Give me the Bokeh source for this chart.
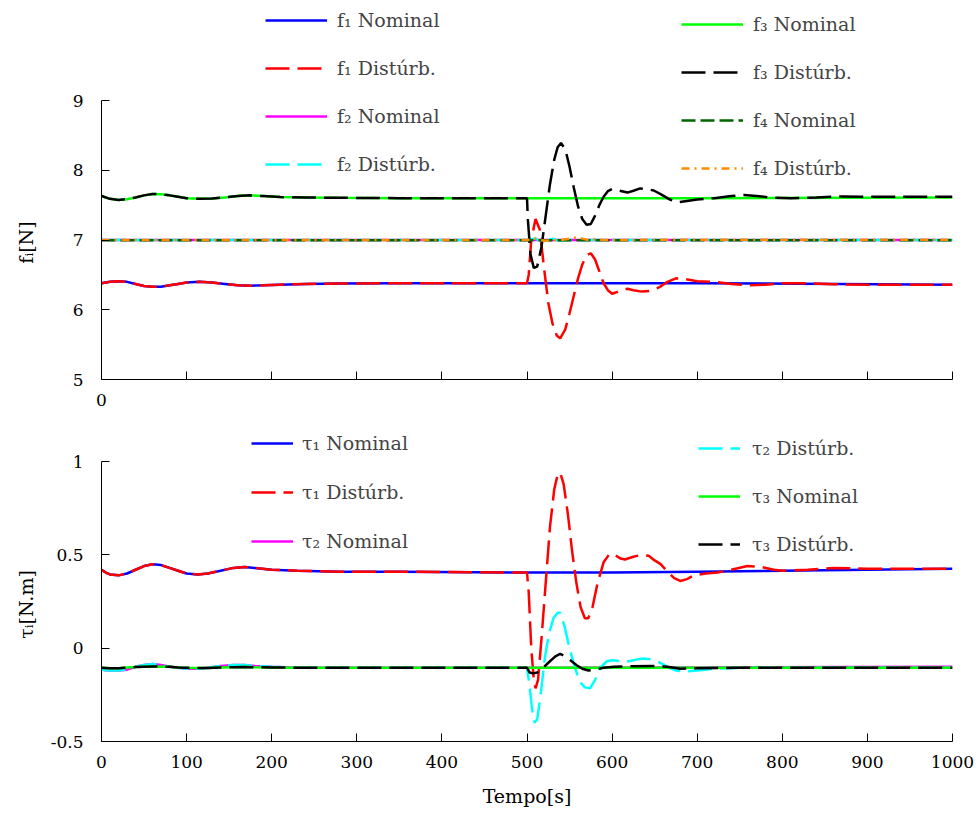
import math

from bokeh.plotting import figure
from bokeh.models import Range1d, FixedTicker, Legend, LegendItem, NumeralTickFormatter, Label
from bokeh.layouts import column, row
from bokeh.embed import file_html
from bokeh.resources import INLINE

# ---------------- forces f_i [N] ----------------
f_early_t = [0, 10, 20, 30, 40, 50, 60, 70, 80, 90, 100, 115, 130, 145, 160, 175, 190, 210, 240, 280, 350, 500]
f1_early = [6.38, 6.40, 6.41, 6.40, 6.37, 6.34, 6.33, 6.33, 6.35, 6.37, 6.39, 6.40, 6.39, 6.37, 6.35, 6.345, 6.35, 6.36, 6.37, 6.375, 6.38, 6.38]
f3_early = [7.63, 7.59, 7.575, 7.585, 7.61, 7.64, 7.66, 7.655, 7.64, 7.62, 7.60, 7.59, 7.595, 7.61, 7.63, 7.64, 7.63, 7.615, 7.61, 7.605, 7.60, 7.60]

f1_nom_t = f_early_t + [700, 1000]
f1_nom = f1_early + [6.38, 6.36]
f1_dis_t = f_early_t + [502, 505, 510, 515, 520, 525, 530, 535, 539, 545, 550, 555, 560, 565, 570, 575,
                        580, 585, 590, 595, 600, 605, 610, 618, 625, 635, 645, 655, 665, 675, 685, 700,
                        720, 740, 760, 780, 800, 830, 860, 900, 1000]
f1_dis = f1_early + [6.5, 7.0, 7.30, 7.15, 6.6, 6.1, 5.8, 5.63, 5.59, 5.72, 5.95, 6.2, 6.45, 6.65, 6.78, 6.81,
                     6.72, 6.55, 6.38, 6.28, 6.23, 6.25, 6.28, 6.30, 6.28, 6.26, 6.27, 6.32, 6.40, 6.45, 6.44, 6.41,
                     6.40, 6.37, 6.35, 6.36, 6.38, 6.38, 6.365, 6.36, 6.36]

f2_nom_t = [0, 100, 200, 300, 400, 500, 600, 700, 800, 900, 1000]
f2_nom = [7.0, 7.0, 7.0, 7.0, 7.0, 7.0, 7.0, 7.0, 7.0, 7.0, 7.0]
f2_dis_t = [0, 100, 200, 300, 400, 500, 505, 510, 515, 520, 525, 530, 535, 540, 550, 600, 700, 800, 900, 1000]
f2_dis = [7.0, 7.0, 7.0, 7.0, 7.0, 7.0, 7.01, 7.02, 6.99, 6.98, 7.0, 7.02, 7.0, 6.99, 7.0, 7.0, 7.0, 7.0, 7.0, 7.0]

f3_nom_t = f_early_t + [700, 1000]
f3_nom = f3_early + [7.60, 7.61]
f3_dis_t = f_early_t + [501, 504, 508, 512, 517, 522, 527, 532, 536, 540, 545, 550, 555, 560, 565, 570, 575,
                        580, 585, 590, 595, 600, 608, 618, 626, 633, 641, 649, 658, 668, 677, 688, 700,
                        720, 740, 755, 770, 790, 810, 840, 870, 900, 1000]
f3_dis = f3_early + [7.3, 6.8, 6.60, 6.62, 6.9, 7.35, 7.8, 8.15, 8.33, 8.39, 8.30, 8.05, 7.75, 7.48, 7.3, 7.22, 7.23,
                     7.35, 7.50, 7.62, 7.70, 7.73, 7.71, 7.68, 7.71, 7.74, 7.73, 7.71, 7.65, 7.58, 7.54, 7.56, 7.58,
                     7.60, 7.63, 7.645, 7.63, 7.605, 7.60, 7.61, 7.625, 7.62, 7.62]

f4_nom_t = [0, 100, 200, 300, 400, 500, 600, 700, 800, 900, 1000]
f4_nom = [6.995, 6.995, 6.995, 6.995, 6.995, 6.995, 6.995, 6.995, 6.995, 6.995, 6.995]
f4_dis_t = [0, 100, 200, 300, 400, 500, 510, 520, 540, 555, 560, 565, 575, 580, 590, 700, 800, 900, 1000]
f4_dis = [7.0, 7.0, 7.0, 7.0, 7.0, 7.0, 7.02, 6.99, 7.0, 7.03, 7.04, 7.02, 6.99, 7.01, 7.0, 7.005, 7.005, 7.005, 7.005]

# ---------------- torques tau_i [N.m] ----------------
tau_early_t = [0, 5, 10, 20, 30, 40, 50, 60, 70, 80, 90, 100, 113, 125, 140, 155, 168, 180, 200, 230, 280, 350, 500]
tau1_early = [0.42, 0.405, 0.395, 0.39, 0.40, 0.42, 0.44, 0.45, 0.445, 0.43, 0.415, 0.40, 0.395, 0.40, 0.415, 0.43,
              0.435, 0.43, 0.42, 0.415, 0.41, 0.41, 0.405]
tau2_early = [-0.115, -0.118, -0.12, -0.12, -0.115, -0.10, -0.09, -0.085, -0.09, -0.10, -0.105, -0.11, -0.11, -0.105,
              -0.095, -0.09, -0.09, -0.095, -0.10, -0.105, -0.105, -0.105, -0.105]
tau3_early = [-0.105, -0.106, -0.107, -0.107, -0.104, -0.101, -0.099, -0.098, -0.099, -0.100, -0.103, -0.105, -0.106,
              -0.106, -0.104, -0.102, -0.101, -0.102, -0.103, -0.105, -0.105, -0.105, -0.105]

tau1_nom_t = tau_early_t + [600, 700, 800, 900, 1000]
tau1_nom = tau1_early + [0.405, 0.41, 0.415, 0.42, 0.425]
tau1_dis_t = tau_early_t + [502, 505, 508, 510, 513, 517, 522, 527, 532, 536, 539, 543, 548, 553, 558, 563, 568,
                            572, 577, 583, 590, 597, 603, 610, 615, 625, 635, 643, 650, 657, 665, 673, 680, 688,
                            696, 710, 724, 740, 759, 775, 790, 801, 830, 860, 900, 1000]
tau1_dis = tau1_early + [0.3, 0.0, -0.17, -0.215, -0.17, 0.05, 0.35, 0.65, 0.85, 0.93, 0.94, 0.88, 0.72, 0.52, 0.35,
                         0.22, 0.16, 0.16, 0.22, 0.35, 0.46, 0.505, 0.50, 0.48, 0.475, 0.49, 0.50, 0.495, 0.47, 0.45,
                         0.41, 0.375, 0.36, 0.37, 0.39, 0.40, 0.405, 0.42, 0.44, 0.435, 0.42, 0.415, 0.42, 0.43,
                         0.425, 0.425]

tau2_nom_t = tau_early_t + [700, 1000]
tau2_nom = tau2_early + [-0.103, -0.10]
tau2_dis_t = tau_early_t + [503, 506, 509, 512, 516, 521, 526, 531, 536, 539, 544, 550, 556, 562, 568, 574, 580,
                            587, 594, 600, 610, 620, 630, 637, 645, 655, 665, 675, 685, 700, 720, 750, 1000]
tau2_dis = tau2_early + [-0.2, -0.33, -0.40, -0.38, -0.25, -0.05, 0.08, 0.16, 0.19, 0.19, 0.12, 0.0, -0.1, -0.18,
                         -0.21, -0.215, -0.17, -0.10, -0.07, -0.065, -0.07, -0.07, -0.06, -0.055, -0.06, -0.075,
                         -0.10, -0.12, -0.125, -0.12, -0.11, -0.105, -0.105]

tau3_nom_t = tau_early_t + [1000]
tau3_nom = tau3_early + [-0.105]
tau3_dis_t = tau_early_t + [503, 507, 512, 520, 527, 533, 539, 545, 551, 558, 565, 572, 580, 590, 602, 620, 647,
                            665, 680, 700, 750, 1000]
tau3_dis = tau3_early + [-0.13, -0.135, -0.13, -0.10, -0.07, -0.045, -0.03, -0.045, -0.065, -0.09, -0.11, -0.12,
                         -0.115, -0.105, -0.10, -0.097, -0.095, -0.10, -0.11, -0.108, -0.105, -0.105]

x_ticks = [0, 100, 200, 300, 400, 500, 600, 700, 800, 900, 1000]
f_ticks = [5, 6, 7, 8, 9]
tau_ticks = [-0.5, 0, 0.5, 1]

SERIF = "DejaVu Serif"
LW = 2.5
DASH = "24 8"

# Each plot's frame reaches the top of its canvas so the legends (which sit
# partly above the data area) are not clipped; the axis line is bounded to
# the data limits and the range is padded by the same pixel scale.
F_LO, F_HI, F_PX, F_PAD = 5, 9, 279, 100
T_LO, T_HI, T_PX, T_PAD = -0.5, 1, 280, 41

LABEL_W = 40          # narrow strip on the left holding the rotated y titles
MAIN_W = 979 - LABEL_W
TOP_H, BOT_H = 420, 394


def style_axes(p):
    p.outline_line_color = None
    p.xgrid.visible = False
    p.ygrid.visible = False
    for ax in (p.xaxis[0], p.yaxis[0]):
        ax.major_tick_in = 8
        ax.major_tick_out = 0
        ax.minor_tick_line_color = None
        ax.axis_line_color = "black"
        ax.major_tick_line_color = "black"
        ax.major_label_text_font = SERIF
        ax.major_label_text_font_size = "17px"
        ax.major_label_text_color = "black"
        ax.major_label_standoff = 14
        ax.axis_label_text_font = SERIF
        ax.axis_label_text_font_size = "19px"
        ax.axis_label_text_font_style = "normal"
        ax.axis_label_text_color = "black"
    p.yaxis[0].major_label_standoff = 18
    p.xaxis[0].ticker = FixedTicker(ticks=x_ticks)


def make_legend(items, x, y, glyph_w, standoff, spacing):
    return Legend(items=items, location=(x, y), orientation="vertical",
                  padding=0, margin=0, spacing=spacing,
                  glyph_width=glyph_w, glyph_height=22, label_height=22,
                  label_standoff=standoff,
                  label_text_font=SERIF, label_text_font_size="19px",
                  border_line_color=None, background_fill_alpha=0)


def y_title(text, height, cx, cy_from_top):
    # a strip whose data units are its own pixels, holding one rotated title
    s = figure(frame_width=LABEL_W, frame_height=height, title=None,
               x_range=Range1d(0, LABEL_W), y_range=Range1d(0, height),
               x_axis_type=None, y_axis_type=None, output_backend="svg", toolbar_location=None,
               min_border_left=0, min_border_right=0, min_border_top=0, min_border_bottom=0)
    s.outline_line_color = None
    s.grid.visible = False
    s.add_layout(Label(x=cx, y=height - cy_from_top, text=text,
                       angle=math.pi / 2, text_align="center", text_baseline="middle",
                       text_font=SERIF, text_font_size="19px", text_color="black"))
    return s


# ---------------- top panel: forces ----------------
p1 = figure(width=MAIN_W, height=TOP_H, title=None, x_range=Range1d(0, 1000),
            y_range=Range1d(F_LO, F_HI + (F_HI - F_LO) * F_PAD / F_PX),
            output_backend="svg", toolbar_location=None,
            min_border_left=101 - LABEL_W, min_border_right=27, min_border_top=0, min_border_bottom=41)
style_axes(p1)
p1.yaxis[0].ticker = FixedTicker(ticks=f_ticks)
p1.yaxis[0].bounds = (F_LO, F_HI)
p1.xaxis[0].major_label_overrides = {t: "" for t in x_ticks if t != 0}

r_f1n = p1.line(f1_nom_t, f1_nom, line_color="#0000ff", line_width=LW)
r_f1d = p1.line(f1_dis_t, f1_dis, line_color="#ff0000", line_width=LW, line_dash=DASH)
r_f2n = p1.line(f2_nom_t, f2_nom, line_color="#ff00ff", line_width=LW)
r_f2d = p1.line(f2_dis_t, f2_dis, line_color="#00ffff", line_width=LW, line_dash=DASH)
r_f3n = p1.line(f3_nom_t, f3_nom, line_color="#00ff00", line_width=LW)
r_f3d = p1.line(f3_dis_t, f3_dis, line_color="#000000", line_width=LW, line_dash=DASH)
r_f4n = p1.line(f4_nom_t, f4_nom, line_color="#006400", line_width=LW, line_dash="14 5")
r_f4d = p1.line(f4_dis_t, f4_dis, line_color="#ff8c00", line_width=LW, line_dash="8 5 2 5")

p1.add_layout(make_legend([
    LegendItem(label="f₁ Nominal", renderers=[r_f1n]),
    LegendItem(label="f₁ Distúrb.", renderers=[r_f1d]),
    LegendItem(label="f₂ Nominal", renderers=[r_f2n]),
    LegendItem(label="f₂ Distúrb.", renderers=[r_f2d]),
], 164, 204, 62, 10, 26))
p1.add_layout(make_legend([
    LegendItem(label="f₃ Nominal", renderers=[r_f3n]),
    LegendItem(label="f₃ Distúrb.", renderers=[r_f3d]),
    LegendItem(label="f₄ Nominal", renderers=[r_f4n]),
    LegendItem(label="f₄ Distúrb.", renderers=[r_f4d]),
], 580, 200, 62, 10, 26))

# ---------------- bottom panel: torques ----------------
p2 = figure(width=MAIN_W, height=BOT_H, title=None, x_range=Range1d(0, 1000),
            y_range=Range1d(T_LO, T_HI + (T_HI - T_LO) * T_PAD / T_PX),
            output_backend="svg", toolbar_location=None,
            min_border_left=101 - LABEL_W, min_border_right=27, min_border_top=0, min_border_bottom=73)
style_axes(p2)
p2.yaxis[0].ticker = FixedTicker(ticks=tau_ticks)
p2.yaxis[0].bounds = (T_LO, T_HI)
p2.yaxis[0].formatter = NumeralTickFormatter(format="0.[0]")
p2.xaxis[0].axis_label = "Tempo[s]"
p2.xaxis[0].axis_label_standoff = 14

r_t1n = p2.line(tau1_nom_t, tau1_nom, line_color="#0000ff", line_width=LW)
r_t1d = p2.line(tau1_dis_t, tau1_dis, line_color="#ff0000", line_width=LW, line_dash=DASH)
r_t2n = p2.line(tau2_nom_t, tau2_nom, line_color="#ff00ff", line_width=LW)
r_t2d = p2.line(tau2_dis_t, tau2_dis, line_color="#00ffff", line_width=LW, line_dash=DASH)
r_t3n = p2.line(tau3_nom_t, tau3_nom, line_color="#00ff00", line_width=LW)
r_t3d = p2.line(tau3_dis_t, tau3_dis, line_color="#000000", line_width=LW, line_dash=DASH)

p2.add_layout(make_legend([
    LegendItem(label="τ₁ Nominal", renderers=[r_t1n]),
    LegendItem(label="τ₁ Distúrb.", renderers=[r_t1d]),
    LegendItem(label="τ₂ Nominal", renderers=[r_t2n]),
], 150, 189, 42, 9, 27))
p2.add_layout(make_legend([
    LegendItem(label="τ₂ Distúrb.", renderers=[r_t2d]),
    LegendItem(label="τ₃ Nominal", renderers=[r_t3n]),
    LegendItem(label="τ₃ Distúrb.", renderers=[r_t3d]),
], 597, 186, 42, 12, 26))

page = column(
    row(y_title("fᵢ[N]", TOP_H, 25, 242), p1, spacing=0),
    row(y_title("τᵢ[N.m]", BOT_H, 25, 604 - TOP_H), p2, spacing=0),
    spacing=0,
)
open("out.html", "w").write(file_html(page, INLINE))
